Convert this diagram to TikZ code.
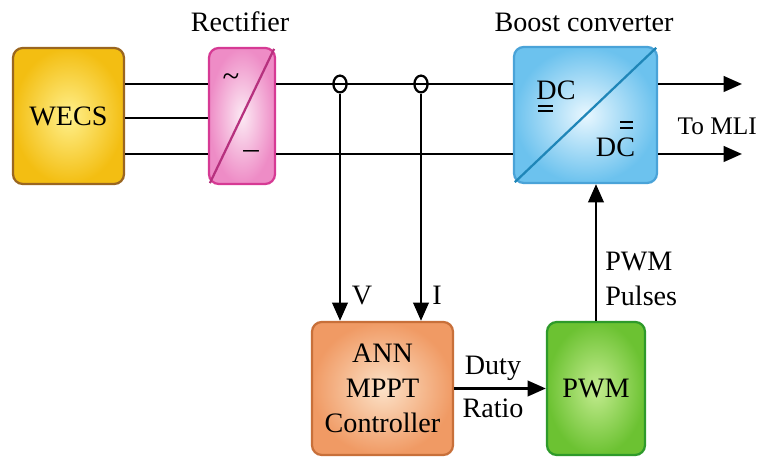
\documentclass[tikz,border=0pt]{standalone}
\usepackage{fontspec}
\setmainfont{Liberation Serif}
\usetikzlibrary{arrows.meta,shapes.geometric}

\definecolor{wecsin}{HTML}{FFF08C}
\definecolor{wecsout}{HTML}{F3BE12}
\definecolor{wecsline}{HTML}{9A6620}
\definecolor{rectin}{HTML}{FCEAF4}
\definecolor{rectout}{HTML}{EE8CC6}
\definecolor{rectline}{HTML}{D63A94}
\definecolor{boostin}{HTML}{E8F7FF}
\definecolor{boostout}{HTML}{6CC2EE}
\definecolor{boostline}{HTML}{4AA3D8}
\definecolor{boostdiag}{HTML}{1F86B8}
\definecolor{annin}{HTML}{FCE2C8}
\definecolor{annout}{HTML}{F09A64}
\definecolor{annline}{HTML}{C8703A}
\definecolor{pwmin}{HTML}{C4EC90}
\definecolor{pwmout}{HTML}{6CC232}
\definecolor{pwmline}{HTML}{2E9A2A}

\tikzset{
  blk/.style={draw, line width=1.6pt, rounded corners=7pt, shading=radial,
    align=center, inner sep=1pt},
  wire/.style={line width=1.8pt},
  arr/.style={wire, -{Triangle[length=13pt,width=11pt]}},
  txt/.style={inner sep=0pt},
  sensor/.style={draw, ellipse, line width=1.6pt, inner sep=0pt,
    minimum width=0.33cm, minimum height=0.42cm}
}

\begin{document}
\begin{tikzpicture}[x=0.025cm, y=-0.025cm, font=\fontsize{20}{25}\selectfont]
\useasboundingbox (0,0) rectangle (759,457);

% blocks
\node[blk, draw=wecsline, inner color=wecsin, outer color=wecsout,
  minimum width=2.775cm, minimum height=3.4cm] (wecs) at (68.5,116) {WECS};
\node[blk, draw=rectline, inner color=rectin, outer color=rectout,
  minimum width=1.65cm, minimum height=3.4cm] (rect) at (242,116) {};
\node[blk, draw=boostline, inner color=boostin, outer color=boostout,
  minimum width=3.575cm, minimum height=3.4cm] (boost) at (585.5,115) {};
\node[blk, draw=annline, inner color=annin, outer color=annout,
  minimum width=3.525cm, minimum height=3.325cm] (ann) at (382.5,388.5)
  {ANN\\MPPT\\Controller};
\node[blk, draw=pwmline, inner color=pwmin, outer color=pwmout,
  minimum width=2.45cm, minimum height=3.325cm] (pwm) at (596,388.5) {PWM};

% converter symbols
\draw[line width=1.6pt, rectline!85!black] ([shift={(2,-2)}]rect.south west) -- ([shift={(-2,2)}]rect.north east);
\draw[line width=1.6pt, boostdiag] ([shift={(2,-2)}]boost.south west) -- ([shift={(-2,2)}]boost.north east);
\node[txt, font=\fontsize{22}{22}\selectfont] (ac) at (231,80) {\textasciitilde};
\node[txt, font=\fontsize{22}{22}\selectfont] (dc) at (251,155) {–};
\node[txt, anchor=base] (dcin) at (556,100) {DC};
\node[txt, anchor=base] (dcout) at (615.5,157) {DC};
\draw[line width=1pt] (538,106) -- (553,106) (538,111) -- (553,111);
\draw[line width=1pt] (620,122) -- (633,122) (620,128) -- (633,128);

% rails
\coordinate (top) at (0,84);
\coordinate (mid) at (0,118);
\coordinate (bot) at (0,154);
\coordinate (out1) at (742,84);
\coordinate (out2) at (742,154);

\draw[wire] (wecs.east |- top) -- (rect.west |- top);
\draw[wire] (wecs.east |- mid) -- (rect.west |- mid);
\draw[wire] (wecs.east |- bot) -- (rect.west |- bot);
\draw[wire] (rect.east |- top) -- (boost.west |- top);
\draw[wire] (rect.east |- bot) -- (boost.west |- bot);
\draw[arr] (boost.east |- top) -- (out1);
\draw[arr] (boost.east |- bot) -- (out2);

% sensing
\node[sensor] (sv) at (340,84) {};
\node[sensor] (si) at (421,84) {};
\draw[arr] (sv.south) -- (sv.south |- ann.north);
\draw[arr] (si.south) -- (si.south |- ann.north);
\draw[arr] (ann.east) -- (pwm.west);
\draw[arr] (pwm.north) -- (pwm.north |- boost.south);

% labels
\node[txt, anchor=base] (lrect) at (240,32) {Rectifier};
\node[txt, anchor=base] (lboost) at (584,32) {Boost converter};
\node[txt, anchor=base east, font=\fontsize{18}{20}\selectfont] (lmli) at (757,135) {To MLI};
\node[txt, anchor=base] (lv) at (362,305) {V};
\node[txt, anchor=base] (li) at (437,305) {I};
\node[txt, anchor=base] (lduty) at (493,375) {Duty};
\node[txt, anchor=base] (lratio) at (493,418) {Ratio};
\node[txt, anchor=west, align=left] (lpulse) at (605,279) {PWM\\Pulses};
\end{tikzpicture}
\end{document}
